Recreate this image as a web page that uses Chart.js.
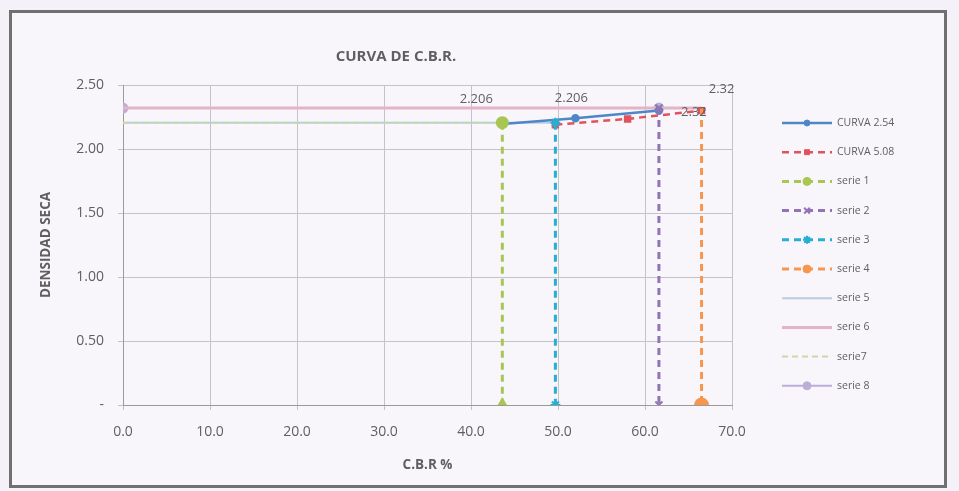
<!DOCTYPE html>
<html>
<head>
<meta charset="utf-8">
<script src="https://cdn.jsdelivr.net/npm/chart.js@4/dist/chart.umd.min.js"></script>
<style>
  html, body { margin: 0; padding: 0; background: #f4f2f8; }
  #frame {
    position: absolute; left: 9px; top: 10px; width: 932px; height: 472px;
    border: 3px solid #707070; background: #f8f6fb;
  }
  #wrap { position: absolute; left: 0; top: 0; width: 959px; height: 491px; }
</style>
</head>
<body>
<div id="frame"></div>
<div id="wrap"><canvas id="cbr" width="959" height="491"></canvas></div>
<script>
// values (C.B.R % vs densidad seca)
const seriesNames = ['CURVA 2.54', 'CURVA 5.08', 'serie 1', 'serie 2', 'serie 3', 'serie 4', 'serie 5', 'serie 6', 'serie7', 'serie 8'];

const curva254X = [43.6, 52.0, 61.6];
const curva254Y = [2.196, 2.240, 2.300];
const curva508X = [49.7, 58.0, 66.5];
const curva508Y = [2.190, 2.235, 2.300];

const serie1X = [43.6, 43.6];
const serie1Y = [2.206, 0];
const serie2X = [61.6, 61.6];
const serie2Y = [2.32, 0];
const serie3X = [49.7, 49.7];
const serie3Y = [2.206, 0];
const serie4X = [66.5, 66.5];
const serie4Y = [2.32, 0];
const serie5X = [0, 49.7];
const serie5Y = [2.206, 2.206];
const serie6X = [0, 66.5];
const serie6Y = [2.32, 2.32];
const serie7X = [0, 43.6];
const serie7Y = [2.206, 2.206];
const serie8X = [0, 61.6];
const serie8Y = [2.32, 2.32];

const xTicks = [0, 10, 20, 30, 40, 50, 60, 70];
const yTicks = [0, 0.5, 1.0, 1.5, 2.0, 2.5];

const pts = (xs, ys) => xs.map((x, i) => ({ x: x, y: ys[i] }));
const gray = '#5f5f5f';
const font = 'Open Sans';

// order: lower number is drawn on top
const datasets = [
  { data: pts(curva254X, curva254Y), borderColor: '#4f86c6', backgroundColor: '#4f86c6',
    borderWidth: 2.5, pointStyle: 'circle', pointRadius: 3, order: 1 },
  { data: pts(curva508X, curva508Y), borderColor: '#e0525d', backgroundColor: '#e0525d',
    borderWidth: 2.5, borderDash: [7, 5], pointStyle: 'rect', pointRadius: 3.5, order: 1 },
  { data: pts(serie1X, serie1Y), borderColor: '#a9c653', backgroundColor: '#a9c653',
    borderWidth: 3, borderDash: [7, 5], pointStyle: ['circle', 'triangle'], pointRadius: 5, order: 0 },
  { data: pts(serie2X, serie2Y), borderColor: '#9274b6', backgroundColor: '#9274b6',
    borderWidth: 3, borderDash: [7, 5], pointStyle: 'crossRot', pointRadius: 5, pointBorderWidth: 2, order: 0 },
  { data: pts(serie3X, serie3Y), borderColor: '#25afd4', backgroundColor: '#25afd4',
    borderWidth: 3, borderDash: [7, 5], pointStyle: 'star', pointRadius: 5, pointBorderWidth: 2, order: 0 },
  { data: pts(serie4X, serie4Y), borderColor: '#f6964f', backgroundColor: '#f6964f',
    borderWidth: 3, borderDash: [7, 5], pointStyle: 'circle', pointRadius: [0, 6], order: 0 },
  { data: pts(serie5X, serie5Y), borderColor: '#bccbe0', backgroundColor: '#bccbe0',
    borderWidth: 2, pointRadius: 0, order: 4 },
  { data: pts(serie6X, serie6Y), borderColor: '#e3b3c6', backgroundColor: '#e3b3c6',
    borderWidth: 3, pointRadius: 0, order: 2 },
  { data: pts(serie7X, serie7Y), borderColor: '#c7d9a6', backgroundColor: '#c7d9a6',
    borderWidth: 2, borderDash: [6, 4], pointRadius: 0, order: 2 },
  { data: pts(serie8X, serie8Y), borderColor: '#bcaed6', backgroundColor: '#bcaed6',
    borderWidth: 2, pointStyle: 'circle', pointRadius: 4.5, order: 3 },
].map((d, i) => Object.assign({ label: seriesNames[i], showLine: true, pointBorderColor: d.borderColor }, d));

// data labels: [dataset, point, dx, dy]
const dataLabels = [
  [2, 0, -26, -23],
  [4, 0, 16, -24],
  [3, 0, 35, 4],
  [5, 0, 20, -19],
];

const extras = {
  id: 'extras',
  afterDraw(chart) {
    const ctx = chart.ctx;
    ctx.save();
    // title
    ctx.fillStyle = gray;
    ctx.font = 'bold 15px ' + font;
    ctx.textAlign = 'center';
    ctx.textBaseline = 'middle';
    ctx.fillText('CURVA DE C.B.R.', 396, 57);

    // labels on points
    ctx.font = '13px ' + font;
    dataLabels.forEach(([di, pi, dx, dy]) => {
      const el = chart.getDatasetMeta(di).data[pi];
      const v = chart.data.datasets[di].data[pi].y;
      ctx.fillText(String(v), el.x + dx, el.y + dy);
    });

    // legend
    ctx.textAlign = 'left';
    ctx.font = '10.5px ' + font;
    chart.data.datasets.forEach((ds, i) => {
      const y = 123 + i * 29.2;
      ctx.strokeStyle = ds.borderColor;
      ctx.lineWidth = ds.borderWidth;
      ctx.setLineDash(ds.borderDash || []);
      ctx.beginPath();
      ctx.moveTo(782, y);
      ctx.lineTo(832, y);
      ctx.stroke();
      ctx.setLineDash([]);
      const r = Array.isArray(ds.pointRadius) ? Math.max(...ds.pointRadius) : ds.pointRadius;
      if (r > 0) {
        const st = Array.isArray(ds.pointStyle) ? ds.pointStyle[0] : ds.pointStyle;
        ctx.fillStyle = ds.backgroundColor;
        ctx.lineWidth = ds.pointBorderWidth || 1;
        Chart.helpers.drawPoint(ctx, { pointStyle: st, radius: Math.min(r, 4), rotation: 0, borderWidth: ds.pointBorderWidth || 1 }, 807, y);
      }
      ctx.fillStyle = gray;
      ctx.fillText(ds.label, 837, y);
    });
    ctx.restore();
  }
};

new Chart(document.getElementById('cbr'), {
  type: 'scatter',
  data: { datasets: datasets },
  options: {
    responsive: false,
    animation: false,
    layout: { padding: { top: 85, right: 227, left: 0, bottom: 0 } },
    plugins: { legend: { display: false }, tooltip: { enabled: false } },
    scales: {
      x: {
        type: 'linear', min: 0, max: 70,
        afterBuildTicks: s => { s.ticks = xTicks.map(v => ({ value: v })); },
        afterFit: s => { s.height = 86; },
        ticks: { color: gray, font: { family: font, size: 14 }, padding: 14,
                 callback: v => v.toFixed(1) },
        grid: { color: '#c4c4c8', tickLength: 5 },
        border: { color: '#9a9a9a' },
        title: { display: true, text: 'C.B.R %', color: gray,
                 font: { family: font, size: 13.5, weight: 'bold' }, padding: { bottom: 18 } },
      },
      y: {
        min: 0, max: 2.5,
        afterBuildTicks: s => { s.ticks = yTicks.map(v => ({ value: v })); },
        afterFit: s => { s.width = 123; },
        ticks: { color: gray, font: { family: font, size: 14 }, padding: 14,
                 callback: v => v === 0 ? '-' : v.toFixed(2) },
        grid: { color: '#c4c4c8', tickLength: 5 },
        border: { color: '#9a9a9a' },
        title: { display: true, text: 'DENSIDAD SECA', color: gray,
                 font: { family: font, size: 13.5, weight: 'bold' }, padding: { top: 38 } },
      },
    },
  },
  plugins: [extras],
});
</script>
</body>
</html>
